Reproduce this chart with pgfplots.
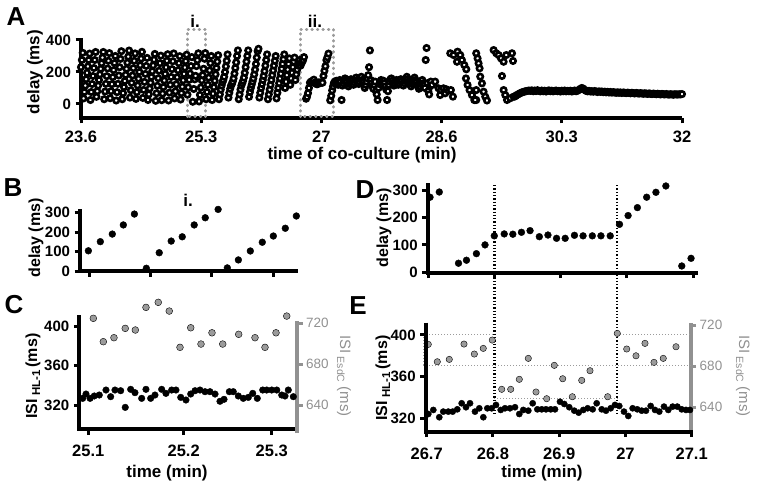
\documentclass[border=0pt]{standalone}
\usepackage{fontspec}
\setmainfont{Liberation Sans}
\usepackage{pgfplots}
\pgfplotsset{compat=1.18}
\definecolor{gpt}{RGB}{155,155,155}
\definecolor{gax}{RGB}{145,145,145}
\newcommand{\fs}[1]{\fontsize{#1}{#1}\selectfont}
\pgfplotsset{
  prism/.style={
    scale only axis, clip=false, anchor=south west,
    axis x line*=bottom, axis y line*=left,
    axis line style={line width=4pt,-},
    tick align=outside, major tick length=5.5pt,
    tick style={line width=3pt, black},
    major tick style={line width=3pt, black},
    /pgf/number format/assume math mode=true,
    xticklabel style={font=\bfseries\fs{16.5}, yshift=-4pt},
    yticklabel style={font=\bfseries\fs{15}, xshift=-1pt},
  },
  grayax/.style={
    scale only axis, clip=false, anchor=south west,
    hide x axis, axis y line*=right,
    axis line style={line width=4pt,-,gax},
    every outer y axis line/.append style={-, line width=4pt, gax},
    tick align=outside, major tick length=5.5pt,
    tick style={line width=3pt, gax},
    major tick style={line width=3pt, gax},
    /pgf/number format/assume math mode=true,
    yticklabel style={font=\fs{13.5}, text=gax},
    ytick={640,680,720},
  },
  axl/.style={black, line width=4pt, line join=miter, forget plot},
  openc/.style={only marks, mark=*, mark size=2.7pt, mark options={draw=black, fill=white, line width=2.6pt}},
  blk/.style={only marks, mark=*, mark size=3.4pt, mark options={draw=none, fill=black}},
  gry/.style={only marks, mark=*, mark size=3.4pt, mark options={draw=none, fill=gpt}},
}
\begin{document}
\begin{tikzpicture}
\path[use as bounding box] (0pt,0pt) rectangle (757pt,-489pt);
% ---------------- A ----------------
\begin{axis}[prism, at={(81pt,-118pt)}, width=601pt, height=80pt,
  xmin=23.6, xmax=32, ymin=-87.5, ymax=412.5,
  xtick={23.6,25.28,26.96,28.64,30.32,32}, xticklabels={23.6,25.3,27,28.6,30.3,32},
  ytick={0,200,400}]
\addplot[axl] coordinates {(23.6,412.5) (23.6,-87.5) (32,-87.5)};
\addplot[openc] coordinates {
(23.600,230) (23.612,275) (23.624,320) (23.636,35) (23.648,75) (23.660,115) (23.672,155) (23.684,195) (23.696,235) (23.708,275)
(23.720,315) (23.732,25) (23.744,75) (23.756,125) (23.768,175) (23.780,225) (23.792,275) (23.804,325) (23.816,45) (23.828,80)
(23.840,115) (23.852,150) (23.864,185) (23.876,220) (23.888,255) (23.900,290) (23.912,325) (23.924,30) (23.936,78) (23.948,126)
(23.960,174) (23.972,222) (23.984,270) (23.996,318) (24.008,36) (24.020,80) (24.032,124) (24.044,168) (24.056,212) (24.068,256)
(24.080,300) (24.092,22) (24.104,74) (24.116,126) (24.128,178) (24.140,230) (24.152,282) (24.164,330) (24.176,30) (24.188,68)
(24.200,106) (24.212,144) (24.224,182) (24.236,220) (24.248,258) (24.260,296) (24.272,334) (24.284,40) (24.296,86) (24.308,132)
(24.320,178) (24.332,224) (24.344,270) (24.356,316) (24.368,32) (24.380,74) (24.392,116) (24.404,158) (24.416,200) (24.428,242)
(24.440,284) (24.452,326) (24.464,38) (24.476,88) (24.488,138) (24.500,188) (24.512,238) (24.524,288) (24.536,25) (24.548,61)
(24.560,97) (24.572,133) (24.584,169) (24.596,205) (24.608,241) (24.620,277) (24.632,313) (24.644,20) (24.656,67) (24.668,114)
(24.680,161) (24.692,208) (24.704,255) (24.716,302) (24.728,24) (24.740,65) (24.752,106) (24.764,147) (24.776,188) (24.788,229)
(24.800,270) (24.812,311) (24.824,22) (24.836,71) (24.848,120) (24.860,169) (24.872,218) (24.884,267) (24.896,316) (24.908,35)
(24.920,79) (24.932,123) (24.944,167) (24.956,211) (24.968,255) (24.980,299) (24.992,28) (25.004,68) (25.016,108) (25.028,148)
(25.040,188) (25.052,228) (25.064,268) (25.076,308) (25.088,58)
(25.099,104) (25.112,151) (25.125,190) (25.137,237) (25.149,293) (25.162,14) (25.176,94) (25.189,154) (25.201,176) (25.214,237)
(25.226,274) (25.240,317) (25.250,16) (25.262,57) (25.275,103) (25.288,148) (25.300,180) (25.313,220) (25.325,283)
(25.337,318) (25.349,30) (25.361,75) (25.373,120) (25.385,165) (25.397,210) (25.409,255) (25.421,300) (25.433,25) (25.445,65)
(25.457,105) (25.469,145) (25.481,185) (25.493,225) (25.505,265) (25.517,305) (25.529,30) (25.541,60) (25.553,90) (25.565,115)
(25.577,135) (25.589,150) (25.601,170) (25.613,200) (25.625,235) (25.637,270) (25.649,310) (25.661,40) (25.673,70) (25.685,95)
(25.697,115) (25.709,125) (25.721,140) (25.733,160) (25.745,190) (25.757,225) (25.769,260) (25.781,300) (25.793,335) (25.805,30)
(25.817,60) (25.829,90) (25.841,115) (25.853,130) (25.865,145) (25.877,165) (25.889,195) (25.901,230) (25.913,265) (25.925,300)
(25.937,335) (25.949,45) (25.961,75) (25.973,100) (25.985,120) (25.997,140) (26.009,160) (26.021,185) (26.033,215) (26.045,250)
(26.057,290) (26.069,330) (26.081,345) (26.093,40) (26.105,70) (26.117,100) (26.129,125) (26.141,150) (26.153,175) (26.165,205)
(26.177,240) (26.189,275) (26.201,310) (26.213,30) (26.225,60) (26.237,90) (26.249,120) (26.261,150) (26.273,180) (26.285,210)
(26.297,240) (26.309,270) (26.321,300) (26.333,35) (26.345,70) (26.357,100) (26.369,130) (26.381,160) (26.393,190) (26.405,220)
(26.417,250) (26.429,280) (26.441,310) (26.453,100) (26.465,140) (26.477,180) (26.489,215) (26.501,250) (26.513,285) (26.525,120)
(26.537,160) (26.549,195) (26.561,230) (26.573,265) (26.585,290) (26.597,150) (26.609,185) (26.621,215) (26.633,240) (26.645,260)
(26.657,275) (26.669,240) (26.681,255) (26.693,265)
(26.703,274) (26.717,293) (26.746,33) (26.758,44) (26.773,68) (26.786,100) (26.800,133) (26.815,140) (26.828,139) (26.841,146)
(26.854,152) (26.868,130) (26.881,136) (26.894,124) (26.907,124) (26.921,135) (26.934,133) (26.948,133) (26.961,133) (26.975,133)
(26.989,175) (27.002,207) (27.016,236) (27.030,274) (27.044,292) (27.059,315) (27.083,23) (27.097,51)
(27.110,85) (27.122,110) (27.134,130) (27.146,140) (27.158,135) (27.170,145) (27.182,130) (27.194,120) (27.206,135) (27.218,150)
(27.230,140) (27.242,25) (27.254,115) (27.266,130) (27.278,145) (27.290,160) (27.302,150) (27.314,135) (27.326,120) (27.338,110)
(27.350,125) (27.362,140) (27.374,155) (27.386,145) (27.398,130) (27.410,120) (27.422,135) (27.434,150) (27.446,165) (27.458,150)
(27.470,135) (27.482,125) (27.494,140) (27.506,155) (27.518,170) (27.530,150) (27.542,135) (27.554,120) (27.566,100) (27.578,120)
(27.590,140) (27.602,160) (27.614,180) (27.626,230) (27.638,335) (27.650,150) (27.662,130) (27.674,110) (27.686,95) (27.698,120)
(27.710,140) (27.722,80) (27.734,60) (27.746,25) (27.758,100) (27.770,125) (27.782,140) (27.794,150) (27.806,135) (27.818,120)
(27.830,145) (27.842,130) (27.854,110) (27.866,90) (27.878,25) (27.890,80) (27.902,120) (27.914,140) (27.926,155) (27.938,160)
(27.950,145) (27.962,130) (27.974,115) (27.986,125) (27.998,140) (28.010,150) (28.022,135) (28.034,120) (28.046,130) (28.058,145)
(28.070,155) (28.082,140) (28.094,125) (28.106,115) (28.118,130) (28.130,145) (28.142,160) (28.154,170) (28.166,155) (28.178,140)
(28.190,130) (28.202,120) (28.214,110) (28.226,125) (28.238,140) (28.250,155) (28.262,165) (28.274,150) (28.286,135) (28.298,120)
(28.310,110) (28.322,95) (28.334,110) (28.346,125) (28.358,140) (28.370,150) (28.382,130) (28.394,115) (28.406,100) (28.418,275)
(28.430,350) (28.442,130) (28.454,80) (28.466,60) (28.478,110) (28.490,140)
(28.505,119) (28.550,140) (28.597,98) (28.620,56) (28.630,87) (28.667,98) (28.690,67) (28.705,92) (28.737,83) (28.770,87)
(28.798,46) (28.761,317) (28.807,306) (28.855,264) (28.863,327) (28.901,306) (28.924,275) (28.957,244) (28.985,217) (28.980,160)
(29.003,119) (29.031,87) (29.064,56) (29.097,25) (29.124,25) (29.124,317) (29.143,285) (29.157,254) (29.171,223) (29.180,171)
(29.204,129) (29.227,77) (29.250,46) (29.274,22) (29.124,87) (29.110,25) (29.367,337) (29.404,317) (29.437,306) (29.470,285)
(29.507,264) (29.484,175) (29.544,306) (29.624,317) (29.638,269) (29.507,87) (29.530,56) (29.554,25) (29.600,36) (29.647,46)
(29.66,46) (29.68,52) (29.70,58) (29.72,63) (29.74,68) (29.76,72) (29.78,75) (29.80,78) (29.82,80) (29.84,82)
(29.86,84) (29.88,82) (29.90,85) (29.92,80) (29.94,84) (29.96,81) (29.98,86) (30.00,82) (30.02,79) (30.04,84)
(30.06,80) (30.08,83) (30.10,78) (30.12,82) (30.14,85) (30.16,80) (30.18,83) (30.20,79) (30.22,82) (30.24,84)
(30.26,80) (30.28,82) (30.30,78) (30.32,83) (30.34,80) (30.36,84) (30.38,79) (30.40,82) (30.42,80) (30.44,83)
(30.46,78) (30.48,81) (30.50,84) (30.52,80) (30.54,83) (30.56,88) (30.58,95) (30.60,100) (30.62,96) (30.64,88)
(30.66,82) (30.68,79) (30.70,82) (30.72,78) (30.74,80) (30.76,77) (30.78,81) (30.80,78) (30.82,75) (30.84,79)
(30.86,76) (30.88,78) (30.90,74) (30.92,77) (30.94,73) (30.96,76) (30.98,72) (31.00,75) (31.02,71) (31.04,74)
(31.06,72) (31.08,70) (31.10,73) (31.12,70) (31.14,72) (31.16,69) (31.18,72) (31.20,70) (31.22,68) (31.24,71)
(31.26,69) (31.28,67) (31.30,70) (31.32,68) (31.34,66) (31.36,69) (31.38,67) (31.40,65) (31.42,68) (31.44,66)
(31.46,64) (31.48,67) (31.50,65) (31.52,63) (31.54,66) (31.56,64) (31.58,62) (31.60,65) (31.62,63) (31.64,61)
(31.66,64) (31.68,62) (31.70,60) (31.72,63) (31.74,61) (31.76,60) (31.78,62) (31.80,60) (31.82,59) (31.84,61)
(31.86,60) (31.88,58) (31.90,61) (31.92,60) (31.94,59) (31.96,61) (31.98,60) (32.00,62)
};
\addplot[gpt, line width=2.8pt, dash pattern=on 0.6pt off 4.9pt, line cap=round] coordinates {(25.087,-79) (25.087,467) (25.344,467) (25.344,-79) (25.087,-79)};
\addplot[gpt, line width=2.8pt, dash pattern=on 0.6pt off 4.9pt, line cap=round] coordinates {(26.663,-79) (26.663,467) (27.129,467) (27.129,-79) (26.663,-79)};
\end{axis}
% ---------------- B ----------------
\begin{axis}[prism, at={(80pt,-271pt)}, width=218pt, height=61.7pt,
  xmin=25.0899, xmax=25.3268, ymin=0, ymax=317.5,
  xtick={25.1,25.1667,25.2333,25.3}, xticklabels={},
  ytick={0,100,200,300}]
\addplot[axl] coordinates {(25.0899,317.5) (25.0899,0) (25.3268,0)};
\addplot[blk] coordinates {
(25.099,104) (25.112,151) (25.125,190) (25.137,237) (25.149,293) (25.162,14) (25.176,94) (25.189,154) (25.201,176) (25.214,237)
(25.226,274) (25.240,317) (25.250,16) (25.262,57) (25.275,103) (25.288,148) (25.300,180) (25.313,220) (25.325,283)};
\end{axis}
% ---------------- C ----------------
\begin{axis}[grayax, at={(79.3pt,-433pt)}, width=217.7pt, height=112pt,
  xmin=25.0902, xmax=25.3276, ymin=612.7, ymax=722]
\addplot[gry] coordinates {
(25.1055,724.6) (25.1164,701.8) (25.1280,705.7) (25.1403,714.8) (25.1513,713.2) (25.1629,735.3) (25.1763,740.2) (25.1883,731.7) (25.2000,696.3)
(25.2117,715.4) (25.2229,699.5) (25.2349,710.5) (25.2466,699.5) (25.2640,709.0) (25.2818,705.7) (25.2927,696.3) (25.3047,710.5) (25.3164,726.8)};
\end{axis}
\begin{axis}[prism, at={(79.3pt,-429pt)}, width=215.7pt, height=114pt,
  xmin=25.0902, xmax=25.3254, ymin=295.5, ymax=411.9,
  xtick={25.1,25.204,25.3}, xticklabels={25.1,25.2,25.3},
  xticklabel style={yshift=-3pt},
  ytick={320,360,400}]
\addplot[axl] coordinates {(25.0902,411.9) (25.0902,295.5) (25.3254,295.5)};
\addplot[blk, mark size=3.3pt] coordinates {
(25.0939,326.8) (25.0975,331.2) (25.1019,326.8) (25.1065,329.2) (25.1120,330.2) (25.1193,335.3) (25.1244,328.5) (25.1291,335.3) (25.1353,334.6)
(25.1403,317.6) (25.1462,336.0) (25.1509,332.6) (25.1582,326.8) (25.1629,336.0) (25.1680,326.8) (25.1727,330.2) (25.1800,336.0) (25.1847,331.9)
(25.1909,335.3) (25.1956,335.3) (25.2008,327.8) (25.2065,325.1) (25.2117,331.2) (25.2164,334.6) (25.2218,335.3) (25.2273,333.6) (25.2327,333.6)
(25.2382,331.2) (25.2436,323.8) (25.2480,325.8) (25.2538,333.6) (25.2581,333.6) (25.2636,329.2) (25.2690,326.8) (25.2745,327.8) (25.2793,331.9)
(25.2843,326.8) (25.2902,335.3) (25.2945,335.3) (25.3000,335.3) (25.3055,335.3) (25.3109,330.2) (25.3145,329.2) (25.3181,335.3) (25.3236,328.5)};
\end{axis}
% ---------------- D ----------------
\begin{axis}[prism, at={(427.7pt,-272.7pt)}, width=270.3pt, height=89.4pt,
  xmin=26.6995, xmax=27.1075, ymin=-1.5, ymax=324.8,
  xtick={26.7,26.8,26.9,27,27.1}, xticklabels={},
  ytick={0,100,200,300}]
\addplot[axl] coordinates {(26.6995,324.8) (26.6995,-1.5) (27.1075,-1.5)};
\addplot[black, line width=2.3pt, dash pattern=on 1.3pt off 2pt] coordinates {(26.8001,318) (26.8001,-524)};
\addplot[black, line width=2.3pt, dash pattern=on 1.3pt off 2pt] coordinates {(26.9851,318) (26.9851,-524)};
\addplot[blk] coordinates {
(26.703,274) (26.717,293) (26.746,33) (26.758,44) (26.773,68) (26.786,100) (26.800,133) (26.815,140) (26.828,139) (26.841,146)
(26.854,152) (26.868,130) (26.881,136) (26.894,124) (26.907,124) (26.921,135) (26.934,133) (26.948,133) (26.961,133) (26.975,133)
(26.989,175) (27.002,207) (27.016,236) (27.030,274) (27.044,292) (27.059,315) (27.083,23) (27.097,51)};
\end{axis}
% ---------------- E ----------------
\begin{axis}[grayax, at={(425.7pt,-432pt)}, width=265pt, height=108.7pt,
  xmin=26.6985, xmax=27.0985, ymin=616, ymax=721.7]
\addplot[gpt, line width=1.1pt, dash pattern=on 1pt off 2pt] coordinates {(26.6949,710.9) (26.802,710.9)};
\addplot[gpt, line width=1.1pt, dash pattern=on 1pt off 2pt] coordinates {(26.6949,710.9) (26.6949,680.5)};
\addplot[gpt, line width=1.1pt, dash pattern=on 1pt off 2pt] coordinates {(26.6949,680.5) (27.0985,680.5)};
\addplot[gpt, line width=1.1pt, dash pattern=on 1pt off 2pt] coordinates {(26.802,648.7) (26.9877,648.7)};
\addplot[gpt, line width=1.1pt, dash pattern=on 1pt off 2pt] coordinates {(26.9877,710.9) (27.0985,710.9)};
\addplot[gry, mark size=3.2pt] coordinates {
(26.7024,701.2) (26.7160,684.3) (26.7341,686.6) (26.7563,701.5) (26.7719,691.8) (26.7854,697.3) (26.7990,705.4) (26.8132,657.5) (26.8268,657.5)
(26.8398,667.2) (26.8534,687.6) (26.8650,654.9) (26.8811,648.4) (26.8926,680.8) (26.9053,667.8) (26.9198,650.3) (26.9340,666.2) (26.9465,675.6)
(26.9732,650.3) (26.9877,711.9) (27.0019,696.7) (27.0159,690.1) (27.0295,702.2) (27.0431,683.7) (27.0571,687.6) (27.0763,698.9)};
\end{axis}
\begin{axis}[prism, at={(425.7pt,-431.7pt)}, width=267.3pt, height=109pt,
  xmin=26.6985, xmax=27.102, ymin=307.1, ymax=411.8,
  xtick={26.7,26.8,26.9,27,27.1}, xticklabels={26.7,26.8,26.9,27,27.1},
  xticklabel style={yshift=-3pt},
  ytick={320,360,400}]
\addplot[axl] coordinates {(26.6985,411.8) (26.6985,307.1) (27.102,307.1)};
\addplot[blk, mark size=3.1pt] coordinates {
(26.7024,324.1) (26.7100,328.0) (26.7190,321.0) (26.7250,326.4) (26.7326,326.4) (26.7392,326.4) (26.7462,328.6) (26.7528,334.4) (26.7593,330.6)
(26.7654,334.4) (26.7729,326.4) (26.7794,329.6) (26.7855,321.0) (26.7915,329.6) (26.7981,329.6) (26.8046,332.8) (26.8117,328.0) (26.8182,329.6)
(26.8257,329.6) (26.8333,330.6) (26.8398,324.1) (26.8458,328.0) (26.8534,327.3) (26.8600,334.4) (26.8670,328.6) (26.8736,328.6) (26.8801,328.6)
(26.8872,328.6) (26.8937,328.6) (26.9012,335.9) (26.9077,333.7) (26.9152,330.6) (26.9228,327.3) (26.9294,325.4) (26.9364,328.0) (26.9430,329.6)
(26.9506,328.6) (26.9566,334.4) (26.9642,328.6) (26.9706,327.3) (26.9777,329.6) (26.9842,332.8) (26.9907,331.8) (26.9978,326.4) (27.0043,322.2)
(27.0109,329.6) (27.0179,328.6) (27.0245,327.3) (27.0310,327.3) (27.0381,331.8) (27.0446,328.0) (27.0511,326.4) (27.0582,331.2) (27.0647,328.0)
(27.0713,331.2) (27.0783,331.2) (27.0849,328.6) (27.0914,328.0) (27.0974,328.0)};
\end{axis}
% ---------------- labels ----------------
\begin{scope}[every node/.style={inner sep=0pt}]
\node[font=\bfseries\fs{26}] at (16pt,-17pt) {A};
\node[font=\bfseries\fs{26}] at (13pt,-188pt) {B};
\node[font=\bfseries\fs{26}] at (14pt,-305pt) {C};
\node[font=\bfseries\fs{26}] at (365pt,-190pt) {D};
\node[font=\bfseries\fs{26}] at (358pt,-306pt) {E};
\node[font=\bfseries\fs{17}] at (195pt,-21pt) {i.};
\node[font=\bfseries\fs{17}] at (315pt,-21pt) {ii.};
\node[font=\bfseries\fs{17}] at (188pt,-200pt) {i.};
\node[font=\bfseries\fs{17}, rotate=90] at (35pt,-72pt) {delay (ms)};
\node[font=\bfseries\fs{17}] at (362pt,-155pt) {time of co-culture (min)};
\node[font=\bfseries\fs{16}, rotate=90] at (36pt,-238pt) {delay (ms)};
\node[font=\bfseries\fs{16}, rotate=90] at (384pt,-228pt) {delay (ms)};
\node[font=\bfseries\fs{16}, rotate=90] at (33pt,-376pt) {ISI\kern3pt\raisebox{-3pt}{\fs{11.5}HL-1}\kern3pt(ms)};
\node[font=\bfseries\fs{16}, rotate=90] at (383pt,-378pt) {ISI\kern3pt\raisebox{-3pt}{\fs{11.5}HL-1}\kern3pt(ms)};
\node[font=\fs{15}, text=gax, rotate=-90] at (344pt,-376pt) {ISI\kern3pt\raisebox{-3pt}{\fs{10.5}EsdC}\kern4pt(ms)};
\node[font=\fs{15}, text=gax, rotate=-90] at (743pt,-376pt) {ISI\kern3pt\raisebox{-3pt}{\fs{10.5}EsdC}\kern4pt(ms)};
\node[font=\bfseries\fs{17}] at (167pt,-473pt) {time (min)};
\node[font=\bfseries\fs{17}] at (542pt,-473pt) {time (min)};
\end{scope}
\end{tikzpicture}
\end{document}
